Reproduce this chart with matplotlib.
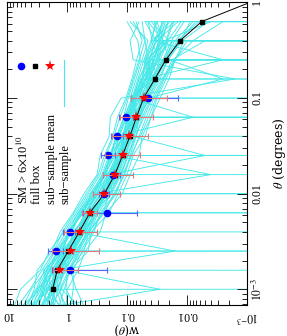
import numpy as np
import matplotlib
matplotlib.use("Agg")
import matplotlib.pyplot as plt

nan = np.nan

# full box w(theta); theta in degrees
theta_full = [1e-3, 10**-2.8, 10**-2.6, 10**-2.4, 10**-2.2, 0.01, 10**-1.8, 10**-1.6,
              10**-1.4, 10**-1.2, 0.1, 10**-0.8, 10**-0.6, 10**-0.4, 10**-0.2, 1.0]
w_full = [1.75, 1.47, 0.96, 0.63, 0.42, 0.24, 0.16, 0.119,
          0.090, 0.070, 0.053, 0.0345, 0.0226, 0.0131, 0.0057, 0.0009]

# points with error bars (same theta for both sets)
theta_err = [10**-2.8, 10**-2.6, 10**-2.4, 10**-2.2, 0.01,
             10**-1.8, 10**-1.6, 10**-1.4, 10**-1.2, 0.1]
# sub-sample mean (red stars)
w_mean = [1.32, 0.85, 0.61, 0.42, 0.245, 0.16, 0.116, 0.092, 0.070, 0.053]
w_mean_hi = [1.75, 1.82, 1.135, 0.56, 0.37, 0.25, 0.234, 0.182, 0.132, 0.085]
w_mean_lo = [0.656, 0.295, 0.324, 0.324, 0.129, 0.079, 0.062, 0.045, 0.037, 0.022]
# SM > 6e10 (blue circles)
w_sm = [0.90, 1.54, 0.90, 0.22, 0.245, 0.175, 0.21, 0.147, 0.105, 0.045]
w_sm_hi = [1.82, 2.07, 1.17, 0.54, 0.29, 0.25, 0.27, 0.186, 0.138, 0.085]
w_sm_lo = [0.215, 1.17, 0.745, 0.068, 0.20, 0.13, 0.162, 0.117, 0.081, 0.014]

# individual sub-samples, log10 w (nan = w <= 0)
theta_sub = [10**-3.2, 1e-3, 10**-2.8, 10**-2.6, 10**-2.4, 10**-2.2, 0.01, 10**-1.8,
             10**-1.6, 10**-1.4, 10**-1.2, 0.1, 10**-0.8, 10**-0.6, 10**-0.4, 10**-0.2]
log_w_sub = [
    [0.68, 0.55, 0.50, 0.25, 0.12, -0.10, -0.28, -0.50, -0.55, -0.70, -0.72, -0.90, -2.80, -1.10, -1.05, -1.20],
    [0.02, 0.00, -0.18, -0.30, -0.55, -0.65, -0.92, -1.05, -1.20, -1.25, -1.40, -1.50, -1.65, -1.80, -1.95, nan],
    [0.40, 0.35, nan, 0.05, -0.30, -0.30, -0.70, -0.65, -1.00, -0.90, -1.20, -1.05, -1.45, -1.30, -1.70, -1.40],
    [0.80, 0.45, 0.30, 0.10, -0.05, -0.25, -0.50, -0.62, -0.80, -0.85, -1.00, -1.10, -1.20, -1.35, nan, -1.60],
    [-0.25, 0.10, -0.05, -0.20, -0.35, -0.60, -0.70, -0.90, -1.00, -1.15, -1.20, -1.35, -1.50, -1.60, nan, -1.30],
    [0.30, 0.20, 0.25, -0.10, -0.15, -0.45, nan, -0.80, -0.85, -1.05, -1.00, -1.25, -1.25, -1.55, -1.40, -1.80],
    [0.55, 0.40, 0.20, 0.00, -0.25, -0.35, -0.65, nan, -0.95, -0.90, -1.15, -1.10, -1.40, -1.35, -1.60, -1.50],
    [0.10, 0.30, 0.10, -0.05, -0.30, -0.50, -0.58, -0.85, -0.80, -1.05, -1.15, -1.30, -1.35, -1.50, -1.70, nan],
    [0.50, 0.15, 0.20, -0.15, -0.10, -0.40, -0.75, -0.70, -2.30, -1.10, -1.05, -1.20, -1.25, -1.45, -1.55, -1.70],
    [0.20, 0.35, 0.00, 0.10, -0.20, -0.30, -0.50, -0.78, -0.90, nan, -1.00, -1.15, -1.35, -1.30, -1.50, -1.85],
    [0.75, 0.60, 0.35, 0.15, -0.05, -0.20, -0.45, -0.60, -0.75, -0.80, -2.10, -1.05, -1.15, -1.25, -1.35, -1.05],
    [-0.05, -0.10, -0.10, -0.25, -0.45, -0.55, -0.80, -0.95, -1.05, -1.15, -1.25, -1.40, nan, -1.65, -1.75, nan],
    [0.45, 0.25, 0.15, -1.80, -0.15, -0.45, -0.62, -0.75, -0.90, -1.00, -1.10, -1.30, -1.35, -1.45, -1.55, -1.45],
    [0.25, 0.20, 0.08, -0.12, -0.28, -0.40, -0.68, -0.70, -0.85, -1.00, nan, -1.20, -1.30, -1.40, -1.65, -1.75],
    [0.60, 0.30, 0.40, 0.05, 0.00, -0.28, -0.40, -0.65, -0.70, -0.95, -0.98, -1.10, -1.20, -1.35, -1.30, -1.10],
    [0.00, 0.15, 0.05, -0.15, -0.35, -0.50, -0.65, -0.85, -0.95, nan, -1.18, -1.25, -1.45, -1.60, -1.80, -2.10],
    [0.65, 0.50, 0.22, 0.05, -0.18, -0.35, -0.55, -0.72, -0.92, -0.95, -1.10, -1.15, -1.28, -2.60, -1.45, -1.60],
    [-0.30, -0.15, -0.05, -0.35, -0.40, -0.70, -0.85, -1.00, -1.10, -1.30, -1.40, -1.55, -1.70, -1.80, -2.00, nan],
    [0.35, 0.28, 0.18, 0.00, -0.12, -0.32, -0.52, -0.68, -0.82, -0.92, -1.02, -1.15, -1.22, nan, -1.40, -1.50],
    [0.90, 0.78, 0.45, 0.30, 0.05, -0.15, -0.35, -0.55, -0.65, -0.78, -0.88, -1.00, -1.10, -1.20, -1.30, -1.25],
    [0.15, 0.05, -0.05, -0.22, -0.42, -0.58, -0.82, -0.92, -1.08, -1.20, -1.32, -1.45, -1.60, -1.75, -2.30, nan],
    [0.50, 0.38, 0.25, 0.08, nan, -0.30, -0.48, -0.68, -0.85, -0.98, -1.05, -1.15, -1.30, -1.38, -1.48, -1.62],
    [0.28, 0.22, 0.12, -0.02, -0.22, -0.40, -0.60, -0.78, -0.88, -1.02, -1.12, -1.28, -1.40, -1.58, nan, -1.85],
    [0.55, 0.42, 0.30, 0.12, -0.08, -0.22, -0.48, -2.40, -0.78, -0.92, -1.05, -1.10, -1.32, -1.45, -1.52, -1.58],
    [0.38, nan, 0.10, -0.08, -0.20, -0.42, -0.60, -0.78, -0.90, -1.00, -1.25, -1.22, -1.38, -1.50, -1.62, -2.40],
    [0.10, 0.30, 0.28, 0.00, -0.10, -0.36, -0.70, -0.72, -0.98, -1.05, -1.02, -1.35, -2.60, -1.70, -1.60, -1.35],
    [0.62, 0.35, 0.15, -0.10, -0.25, -0.48, -0.58, -0.82, -0.92, -0.90, -1.12, -1.25, -1.50, -1.42, -1.78, nan],
    [0.25, 0.45, 0.20, 0.02, -0.22, nan, -0.55, -0.75, -0.85, -1.08, -1.15, -1.10, -1.25, -1.32, -1.45, -1.70],
    [0.42, -1.55, 0.05, -0.18, -0.32, -0.44, -0.66, -0.88, -1.02, -1.12, -1.20, -1.38, -1.55, -1.68, -1.90, -2.05],
    [0.48, 0.40, 0.32, 0.08, -0.02, -0.26, -0.44, -0.62, -0.72, -0.86, -0.96, -1.08, -1.18, -1.28, -1.40, -1.48],
    [0.58, 0.48, 0.28, 0.18, -0.02, -0.18, -0.42, -0.58, -0.70, -0.84, -0.94, -1.02, -1.12, -1.22, -1.18, -1.00],
    [0.05, 0.12, -0.02, -0.18, -0.38, -0.52, -0.74, -0.90, -1.02, -1.14, -1.28, -1.42, -1.58, -1.82, nan, -2.20],
    [0.72, 0.52, 0.38, 0.20, 0.02, -0.18, -0.38, -0.60, -0.72, -0.82, -0.95, -1.08, -1.25, -1.30, -1.42, -1.35],
    [0.30, 0.10, 0.12, -0.08, -0.28, -0.46, -0.64, -0.80, -0.94, -1.08, -1.18, -1.32, -1.46, -1.62, -1.84, -2.20],
    [0.45, 0.32, 0.18, 0.02, -0.18, -0.34, -0.58, -0.74, -0.86, -0.96, -1.06, nan, -1.30, -1.44, -1.58, -1.68],
    [-0.15, 0.02, 0.00, -0.28, -0.36, -0.62, -0.78, -0.96, -1.06, -1.22, -1.36, -1.48, -1.62, -1.78, -2.10, -2.60],
    [0.85, 0.62, 0.42, 0.22, 0.08, -0.12, -0.32, -0.52, -0.62, -0.76, -0.84, -0.98, -1.08, -1.16, -1.25, -1.15],
    [0.20, 0.28, 0.15, -0.04, -0.24, -0.42, -0.62, -0.76, -0.92, -1.02, -1.14, -1.24, -1.42, -1.55, -1.68, -1.90],
    [0.52, 0.36, 0.26, 0.06, -0.14, -0.30, -0.52, -0.70, -0.84, -0.94, -1.04, -1.18, -1.32, -1.48, -1.60, nan],
    [0.35, 0.25, 0.10, -0.06, -0.26, -0.38, -0.62, -0.80, -0.90, -1.06, -1.18, -1.26, -1.42, -1.60, -1.74, -1.95],
    [0.62, 0.44, 0.34, 0.14, -0.04, -0.24, -0.40, -0.64, -0.76, -0.88, -0.98, -1.14, -1.24, -1.36, -1.48, -1.30],
    [0.08, 0.18, 0.02, -0.14, -0.34, -0.48, -0.72, -0.86, -0.98, -1.10, -1.22, -1.36, -1.52, -1.68, -1.92, -2.35],
    [0.40, 0.26, 0.22, 0.04, -0.16, -0.36, -0.56, -0.72, -0.86, -1.00, -1.08, -1.22, -1.36, -1.52, -1.66, -1.78],
    [0.66, 0.50, 0.34, 0.16, -0.06, -0.22, -0.46, -0.64, -0.78, -0.92, -1.02, -1.12, -1.26, -1.40, -1.54, -1.64],
    [0.22, 0.16, 0.06, -0.10, -0.30, -0.46, -0.66, -0.82, -0.96, -1.08, -1.20, -1.32, -1.48, -1.66, -1.86, -2.15],
]

w_ticks = [10, 1, 0.1, 0.01, 0.001]
w_tick_labels = ["10", "1", "0.1", "0.01", "$10^{-3}$"]
theta_ticks = [1e-3, 0.01, 0.1, 1]
theta_tick_labels = ["$10^{-3}$", "0.01", "0.1", "1"]

legend_labels = ["SM > 6$\\times$10$^{10}$", "full box",
                 "sub\u2212sample mean", "sub\u2212sample"]

plt.rcParams["font.family"] = ["Liberation Serif", "DejaVu Serif"]
plt.rcParams["mathtext.fontset"] = "stix"

cyan = "#45e8e8"

fig = plt.figure(figsize=(2.87, 3.36), dpi=100)
# the whole plot is turned on its side: w runs along the bottom, theta up the right
ax = fig.add_axes([0.0254, 0.0923, 0.835, 0.9003])
ax.set_xscale("log")
ax.set_yscale("log")

for row in log_w_sub:
    lw = np.array(row, dtype=float)
    w = np.where(np.isnan(lw), 0.0, 10.0 ** np.nan_to_num(lw))
    ax.plot(w, theta_sub, color=cyan, lw=0.65, zorder=1)

ax.plot(w_full, theta_full, color="black", lw=0.7, zorder=3)
ax.plot(w_full[:-1], theta_full[:-1], ls="none", marker="s", ms=2.4,
        color="black", zorder=4)

w_sm_a = np.array(w_sm)
ax.errorbar(w_sm, theta_err,
            xerr=[w_sm_a - np.array(w_sm_lo), np.array(w_sm_hi) - w_sm_a],
            fmt="none", ecolor="#6060ff", elinewidth=0.8, capsize=2, capthick=0.8,
            zorder=5)
ax.plot(w_sm, theta_err, ls="none", marker="o", ms=4.5, color="#0000ff", zorder=6)

w_mean_a = np.array(w_mean)
ax.errorbar(w_mean, theta_err,
            xerr=[w_mean_a - np.array(w_mean_lo), np.array(w_mean_hi) - w_mean_a],
            fmt="none", ecolor="#e07878", elinewidth=0.8, capsize=2, capthick=0.8,
            zorder=7)
ax.plot(w_mean, theta_err, ls="none", marker="*", ms=8, color="red",
        markeredgewidth=0, zorder=8)

ax.set_xlim(10, 1e-3)
ax.set_ylim(10 ** -3.164, 1)

ax.set_xticks(w_ticks)
ax.set_xticklabels(w_tick_labels, rotation=180, fontsize=8.5)
ax.set_yticks(theta_ticks)
ax.set_yticklabels(theta_tick_labels, rotation=90, va="center", fontsize=8.5)
ax.tick_params(which="both", direction="in", top=True, bottom=True, left=True,
               right=True, labelleft=False, labelright=True, width=0.6)
ax.tick_params(which="major", length=7, pad=3)
ax.tick_params(which="minor", length=3.5)
for s in ax.spines.values():
    s.set_linewidth(0.8)

ax.set_xlabel("w($\\theta$)", rotation=180, fontsize=8.5, family="DejaVu Serif")
ax.xaxis.set_label_coords(0.5, -0.052)
ax.yaxis.set_label_position("right")
ax.set_ylabel("$\\theta$ (degrees)", rotation=90, fontsize=9,
              family="DejaVu Serif", labelpad=4)

# legend, written sideways like the rest
text_x = [0.061, 0.124, 0.186, 0.241]
for x, lab in zip(text_x, legend_labels):
    ax.text(x, 0.333, lab, rotation=90, ha="center", va="bottom", fontsize=9,
            transform=ax.transAxes)
ax.plot([0.056], [0.791], "o", ms=4.5, color="#0000ff", transform=ax.transAxes)
ax.plot([0.116], [0.791], "s", ms=2.4, color="black", transform=ax.transAxes)
ax.plot([0.178], [0.791], "*", ms=8, color="red", markeredgewidth=0,
        transform=ax.transAxes)
ax.plot([0.238, 0.238], [0.657, 0.811], color=cyan, lw=0.8, transform=ax.transAxes)

fig.savefig("out.png", dpi=100)
